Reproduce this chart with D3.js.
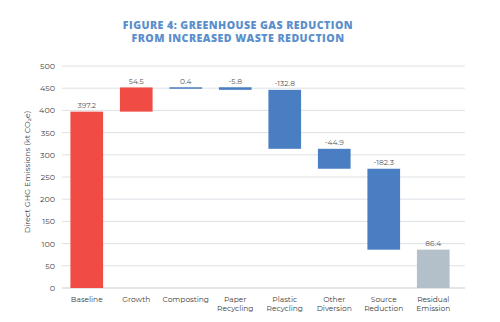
<!DOCTYPE html>
<html><head><meta charset="utf-8">
<script src="https://cdn.jsdelivr.net/npm/d3@7"></script>
<style>body{margin:0;background:#fff;}svg{display:block;}</style>
</head><body>
<svg id="c" width="500" height="322"></svg>
<script>
const categories = [["Baseline"],["Growth"],["Composting"],["Paper","Recycling"],["Plastic","Recycling"],["Other","Diversion"],["Source","Reduction"],["Residual","Emission"]];
const values = [397.2, 54.5, 0.4, -5.8, -132.8, -44.9, -182.3, 86.4];
const kinds = ["total","inc","inc","dec","dec","dec","dec","total"];
const labels = ["397.2","54.5","0.4","-5.8","-132.8","-44.9","-182.3","86.4"];
const yTicks = [0,50,100,150,200,250,300,350,400,450,500];
const titleLines = ["FIGURE 4: GREENHOUSE GAS REDUCTION","FROM INCREASED WASTE REDUCTION"];

const svg = d3.select("#c");
const font = "Montserrat, 'Open Sans', 'DejaVu Sans', sans-serif";
const pLeft = 62, pRight = 465, pTop = 66, pBottom = 288;
const x = d3.scaleBand().domain(d3.range(categories.length)).range([pLeft,458]).paddingInner(0.34).paddingOuter(0.17);
const y = d3.scaleLinear().domain([0,500]).range([pBottom,pTop]);

let run = 0;
const bars = values.map((v,i)=>{
  let y0,y1;
  if(kinds[i]==="total"){ y0=0; y1=v; run=v; }
  else { y0=run; y1=run+v; run=y1; }
  return {i, y0, y1, v, kind:kinds[i], label:labels[i]};
});

svg.append("g").selectAll("text").data(titleLines).join("text")
  .attr("x",238).attr("y",(d,i)=>29+i*12.7)
  .attr("text-anchor","middle").attr("fill","#5b8fcc")
  .attr("font-family","'Open Sans', sans-serif").attr("font-weight",800).attr("font-size","10.6px")
  .attr("letter-spacing","0.45px")
  .text(d=>d);

svg.append("g").selectAll("line").data(yTicks).join("line")
  .attr("x1",pLeft).attr("x2",pRight).attr("y1",d=>y(d)).attr("y2",d=>y(d))
  .attr("stroke",d=>d===0?"#c9ced4":"#dde1e6").attr("stroke-width",1);

const yAxis = d3.axisLeft(y).tickValues(yTicks).tickSize(0).tickPadding(7);
const ga = svg.append("g").attr("transform",`translate(${pLeft},0)`).call(yAxis);
ga.select(".domain").remove();
ga.selectAll("text").attr("font-family",font).attr("font-size","8px").attr("fill","#444");

svg.append("text").attr("transform","translate(30,172) rotate(-90)")
  .attr("text-anchor","middle").attr("font-family",font).attr("font-size","7.8px").attr("fill","#444")
  .text("Direct GHG Emissions (kt CO\u2082e)");

const colors = {total:"#f04c44", inc:"#f04c44", dec:"#4a7ec3"};
svg.append("g").selectAll("rect").data(bars).join("rect")
  .attr("x",d=>x(d.i)).attr("width",x.bandwidth())
  .attr("y",d=>y(Math.max(d.y0,d.y1)))
  .attr("height",d=>Math.max(1.5,Math.abs(y(d.y0)-y(d.y1))))
  .attr("fill",d=>d.i===categories.length-1?"#b3c0c9":(d.i===2?"#4a7ec3":colors[d.kind]));

svg.append("g").selectAll("text").data(bars).join("text")
  .attr("x",d=>x(d.i)+x.bandwidth()/2)
  .attr("y",d=>y(Math.max(d.y0,d.y1))-3.5)
  .attr("text-anchor","middle").attr("font-family",font).attr("font-size","7.5px").attr("fill","#555")
  .text(d=>d.label);

const cg = svg.append("g").selectAll("text").data(categories).join("text")
  .attr("x",(d,i)=>x(i)+x.bandwidth()/2).attr("y",302)
  .attr("text-anchor","middle").attr("font-family",font).attr("font-size","7.5px").attr("fill","#3a3a3a");
cg.selectAll("tspan").data(d=>d).join("tspan")
  .attr("x",function(){return this.parentNode.getAttribute("x");})
  .attr("dy",(d,i)=>i===0?0:8.5).text(d=>d);
</script>
</body></html>
